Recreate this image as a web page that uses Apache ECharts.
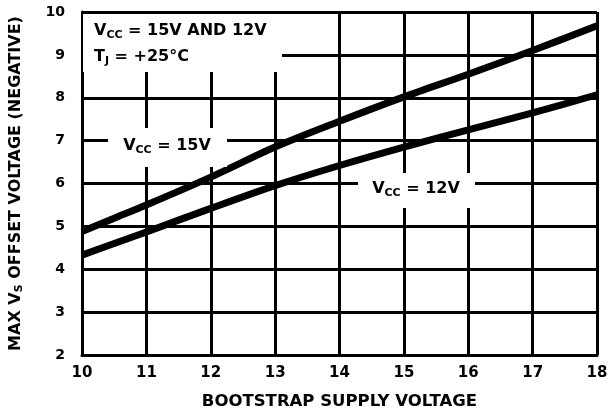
<!DOCTYPE html>
<html>
<head>
<meta charset="utf-8">
<script src="https://cdn.jsdelivr.net/npm/echarts@6/dist/echarts.min.js"></script>
<style>
html,body{margin:0;padding:0;background:#fff;}
#chart{width:613px;height:415px;}
</style>
</head>
<body>
<div id="chart"></div>
<script>
// Bootstrap supply voltage (V)
const bootstrapVoltage = [10, 10.5, 11, 12, 13, 14, 15, 16, 17, 18];
// Max VS offset voltage (negative), VCC = 15V
const vcc15 = [4.88, 5.19, 5.5, 6.15, 6.85, 7.45, 8.02, 8.55, 9.1, 9.68];
// Max VS offset voltage (negative), VCC = 12V
const vcc12 = [4.33, 4.6, 4.87, 5.42, 5.95, 6.42, 6.85, 7.25, 7.65, 8.07];

const xTicks = [10, 11, 12, 13, 14, 15, 16, 17, 18];
const yTicks = [2, 3, 4, 5, 6, 7, 8, 9, 10];

const FONT = '"DejaVu Sans", "Liberation Sans", Arial, sans-serif';

const chart = echarts.init(document.getElementById('chart'), null, {renderer: 'canvas'});

function pairs(xs, ys) { return xs.map((x, i) => [x, ys[i]]); }

const lineStyleBlack = {color: '#000', width: 3};

const rich = {
  a: {fontFamily: FONT, fontWeight: 'bold', fontSize: 16, color: '#000', lineHeight: 20},
  s: {fontFamily: FONT, fontWeight: 'bold', fontSize: 11, color: '#000', lineHeight: 12, verticalAlign: 'bottom'}
};

const option = {
  backgroundColor: '#fff',
  animation: false,
  grid: {left: 81, right: 16, top: 12, bottom: 55, containLabel: false},
  xAxis: {
    type: 'value', min: xTicks[0], max: xTicks[xTicks.length - 1], interval: 1,
    axisLine: {show: true, lineStyle: lineStyleBlack},
    axisTick: {show: false},
    splitLine: {show: true, lineStyle: lineStyleBlack},
    axisLabel: {color: '#000', fontFamily: FONT, fontWeight: 'bold', fontSize: 15, margin: 11},
    name: 'BOOTSTRAP SUPPLY VOLTAGE',
    nameLocation: 'middle', nameGap: 38,
    nameTextStyle: {color: '#000', fontFamily: FONT, fontWeight: 'bold', fontSize: 16.5}
  },
  yAxis: {
    type: 'value', min: yTicks[0], max: yTicks[yTicks.length - 1], interval: 1,
    axisLine: {show: true, lineStyle: lineStyleBlack},
    axisTick: {show: false},
    splitLine: {show: true, lineStyle: lineStyleBlack},
    axisLabel: {color: '#000', fontFamily: FONT, fontWeight: 'bold', fontSize: 14, margin: 17},
    name: '{t|MAX V}{s|S}{t| OFFSET VOLTAGE (NEGATIVE)}',
    nameLocation: 'middle', nameGap: 57, nameRotate: 90,
    nameTextStyle: {
      color: '#000', fontFamily: FONT, fontWeight: 'bold', fontSize: 16,
      rich: {
        t: {fontFamily: FONT, fontWeight: 'bold', fontSize: 16, color: '#000', lineHeight: 18},
        s: {fontFamily: FONT, fontWeight: 'bold', fontSize: 11, color: '#000', lineHeight: 11, verticalAlign: 'bottom'}
      }
    }
  },
  series: [
    {
      name: 'VCC = 15V', type: 'line', data: pairs(bootstrapVoltage, vcc15),
      smooth: 0.3, showSymbol: false, symbol: 'none', z: 5,
      lineStyle: {color: '#000', width: 7}
    },
    {
      name: 'VCC = 12V', type: 'line', data: pairs(bootstrapVoltage, vcc12),
      smooth: 0.3, showSymbol: false, symbol: 'none', z: 5,
      lineStyle: {color: '#000', width: 7}
    }
  ],
  graphic: [
    {type: 'rect', z: 50, shape: {x: 83, y: 14, width: 199, height: 58}, style: {fill: '#fff'}},
    {type: 'rect', z: 50, shape: {x: 108, y: 128, width: 119, height: 39}, style: {fill: '#fff'}},
    {type: 'rect', z: 50, shape: {x: 358, y: 173, width: 117, height: 35}, style: {fill: '#fff'}},
    {type: 'text', z: 60, style: {
      text: '{a|V}{s|CC}{a| = 15V AND 12V}', rich: rich,
      x: 94, y: 31, align: 'left', verticalAlign: 'middle', textAlign: 'left', textVerticalAlign: 'middle'}},
    {type: 'text', z: 60, style: {
      text: '{a|T}{s|J}{a| = +25°C}', rich: rich,
      x: 94, y: 57, align: 'left', verticalAlign: 'middle', textAlign: 'left', textVerticalAlign: 'middle'}},
    {type: 'text', z: 60, style: {
      text: '{a|V}{s|CC}{a| = 15V}', rich: rich,
      x: 167, y: 146, align: 'center', verticalAlign: 'middle', textAlign: 'center', textVerticalAlign: 'middle'}},
    {type: 'text', z: 60, style: {
      text: '{a|V}{s|CC}{a| = 12V}', rich: rich,
      x: 416, y: 189, align: 'center', verticalAlign: 'middle', textAlign: 'center', textVerticalAlign: 'middle'}}
  ]
};

chart.setOption(option);
</script>
</body>
</html>
